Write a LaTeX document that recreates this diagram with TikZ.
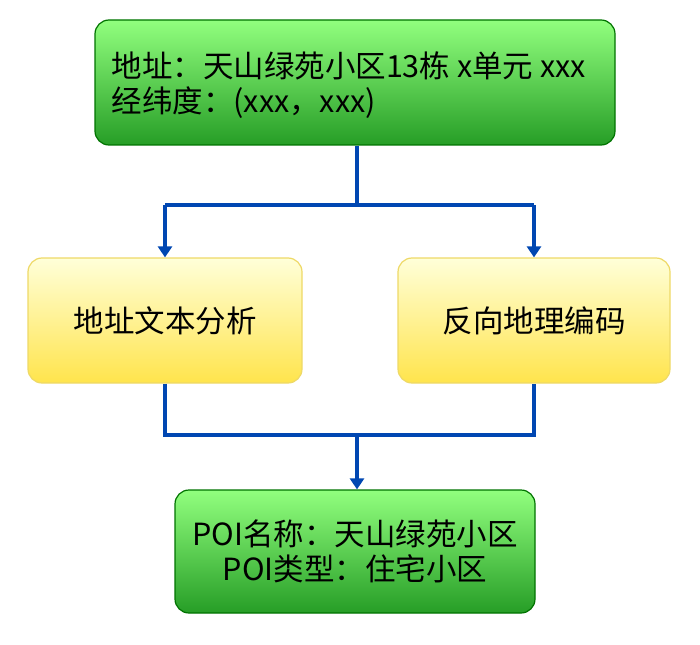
\documentclass[tikz,border=0pt]{standalone}
\usepackage{fontspec}
\setmainfont{Noto Sans CJK SC}
\begin{document}
\begin{tikzpicture}[x=1pt,y=-1pt,
  gbox/.style={draw=green!45!black,line width=1.2pt,rounded corners=14pt,top color=green!45!white!90!lime,bottom color=green!55!black!85!white,font=\fontsize{30.5}{35}\selectfont,inner sep=0pt},
  ybox/.style={draw=yellow!60!brown!70,line width=1.2pt,rounded corners=14pt,top color=yellow!15!white,bottom color=yellow!70!orange!70!white,font=\fontsize{30.5}{35}\selectfont,inner sep=0pt},
  conn/.style={draw=blue!60!cyan!70!black,line width=3.5pt},
  arr/.style={conn,-{Triangle[length=11pt,width=14pt]}}]
\usetikzlibrary{arrows.meta}
\useasboundingbox (0,0) rectangle (700,644);
\node[gbox,minimum width=520pt,minimum height=125pt] (top) at (355,82.5) {};
\node[anchor=west,font=\fontsize{30.5}{35}\selectfont,align=left] (toptxt) at (108,85) {地址：天山绿苑小区13栋 x单元 xxx\\经纬度：(xxx，xxx)};
\node[ybox,minimum width=274pt,minimum height=125pt] (l) at (165,320.5) {地址文本分析};
\node[ybox,minimum width=272pt,minimum height=125pt] (r) at (534,320.5) {反向地理编码};
\node[gbox,minimum width=360pt,minimum height=123pt,align=center] (b) at (355,551.5) {POI名称：天山绿苑小区\\POI类型：住宅小区};
\coordinate (s) at (357,205);
\coordinate (m) at (357,435);
\draw[conn] (top.south -| s) -- (s);
\draw[conn] (s -| l) -- (s -| r);
\draw[arr] (s -| l) -- (l.north);
\draw[arr] (s -| r) -- (r.north);
\draw[conn] (l.south) -- (m -| l) -- (m -| r) -- (r.south);
\draw[arr] (m) -- (b.north -| m);
\end{tikzpicture}
\end{document}
